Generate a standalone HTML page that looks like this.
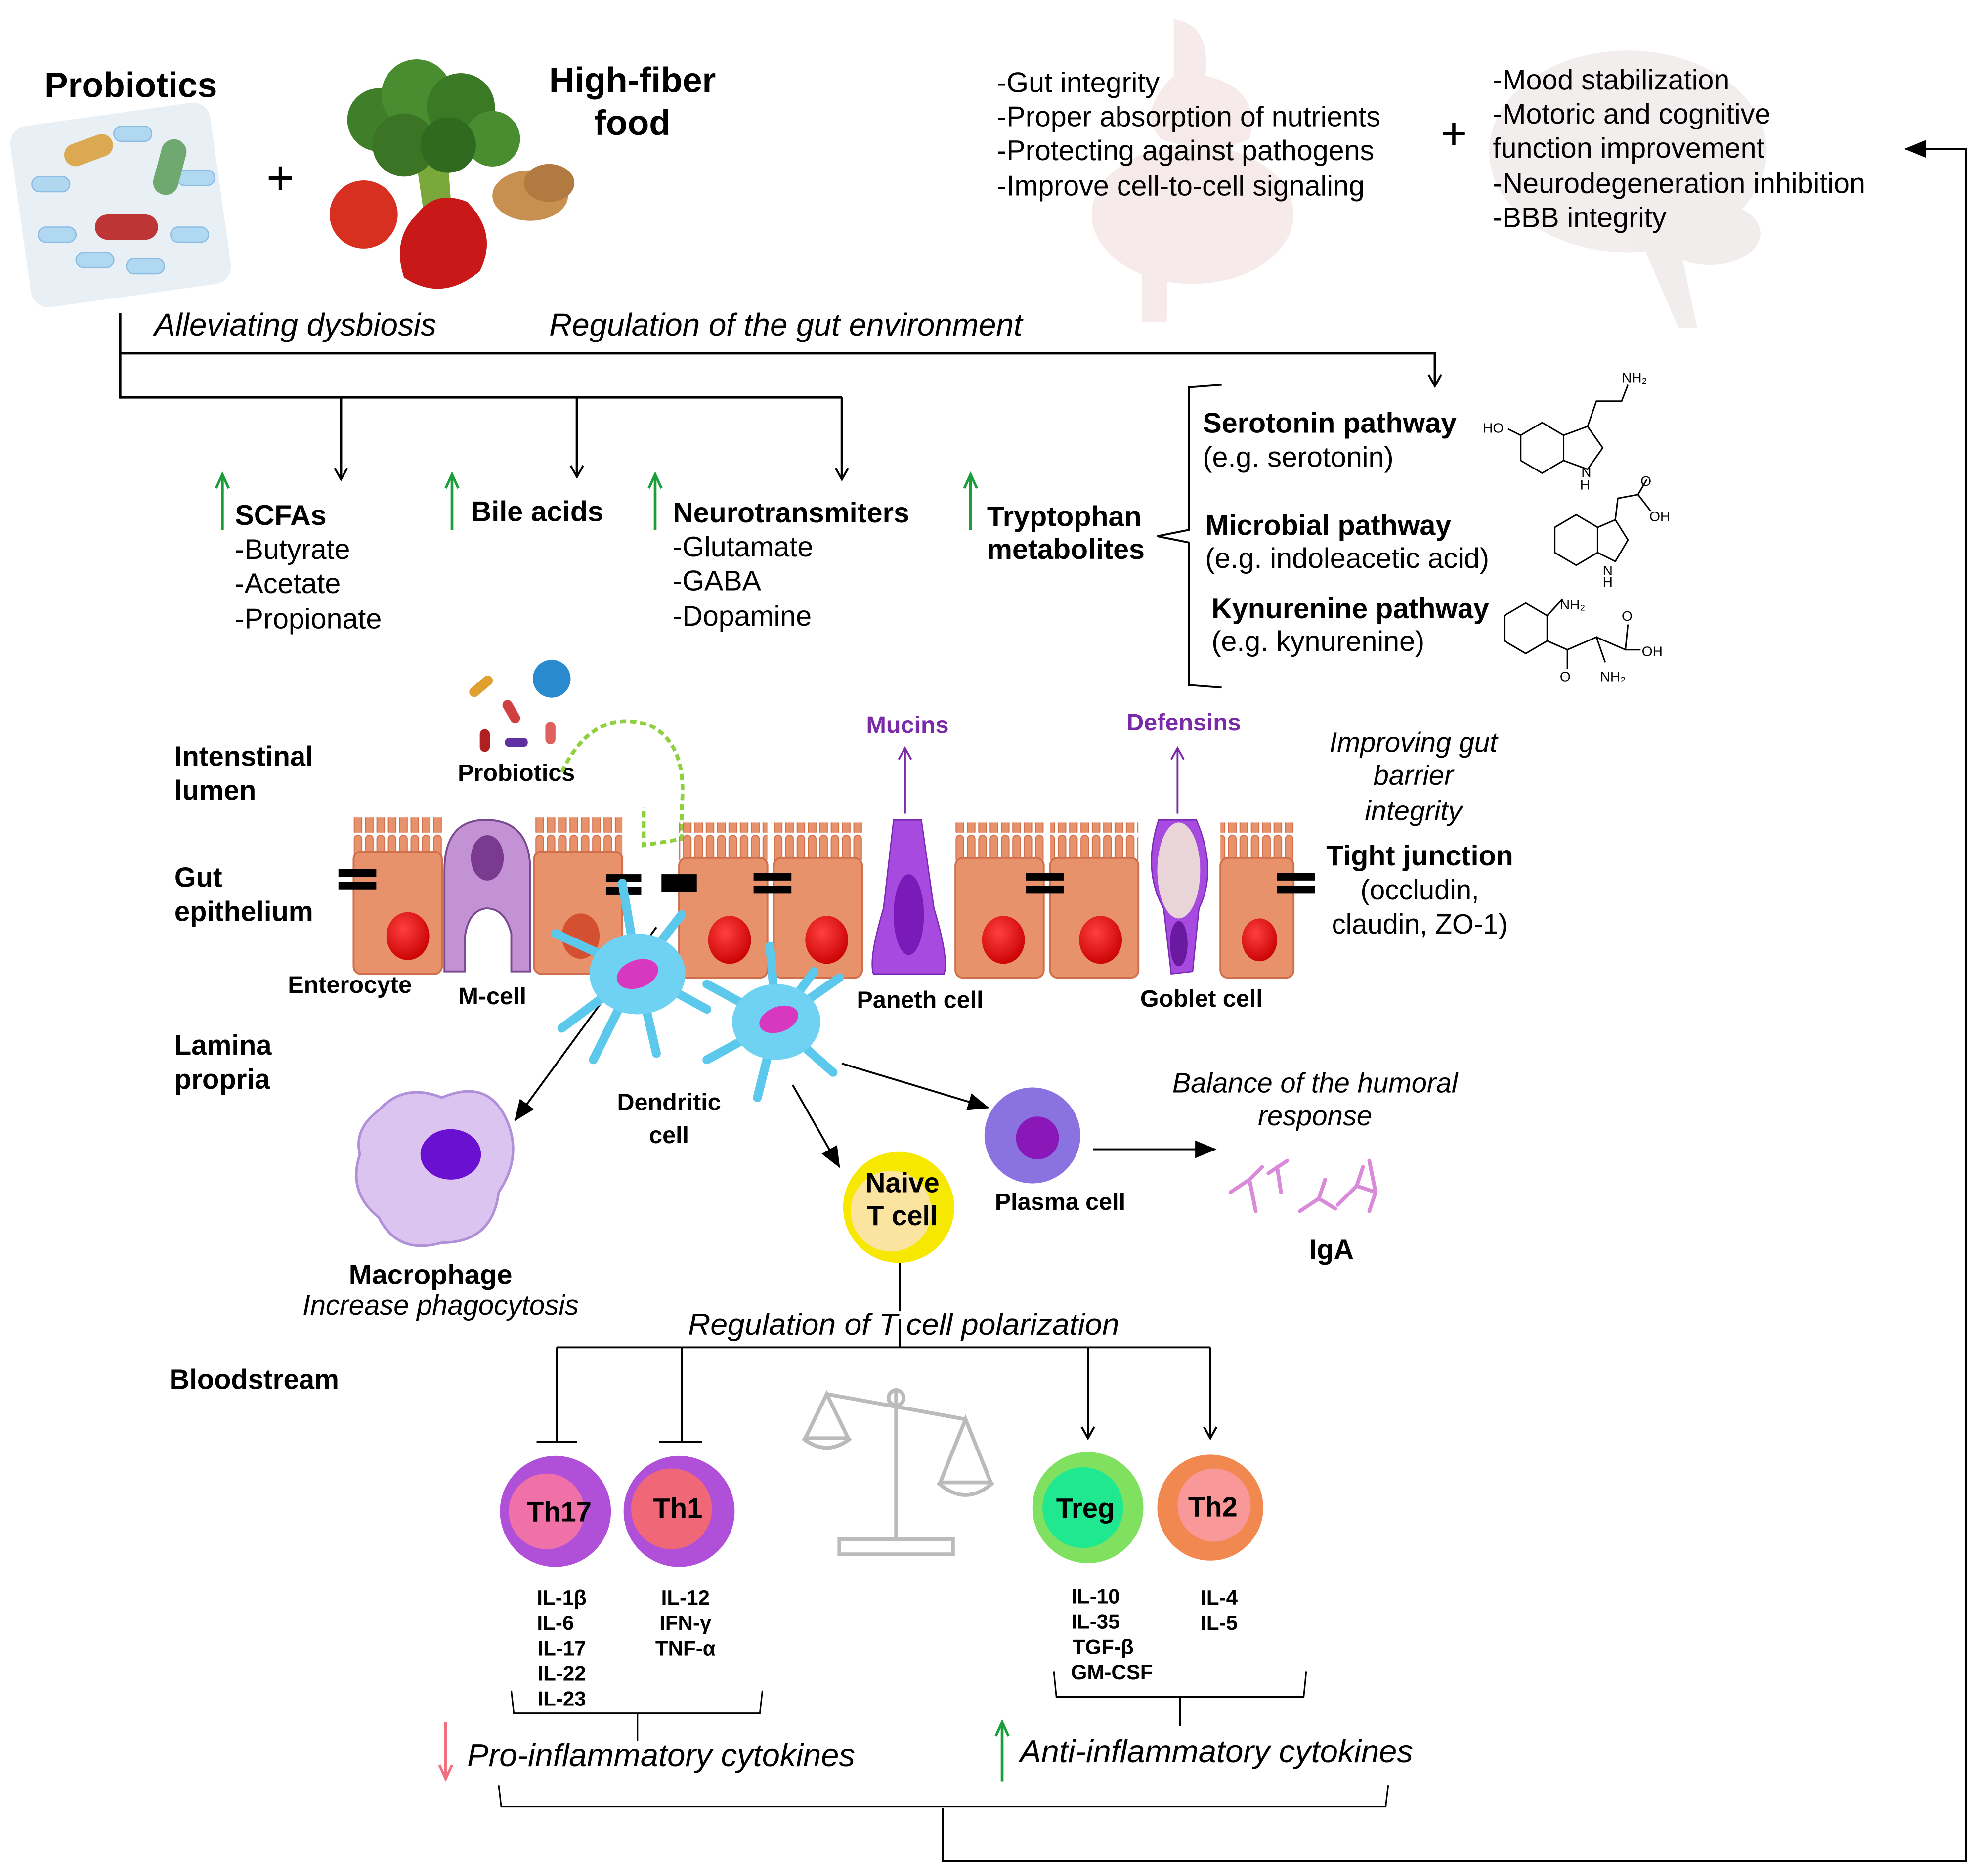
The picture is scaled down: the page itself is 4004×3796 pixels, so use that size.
<!DOCTYPE html>
<html><head><meta charset="utf-8"><style>
html,body{margin:0;padding:0;background:#fff;}
svg{display:block;}
text{font-family:"Liberation Sans",Arial,sans-serif;fill:#000;}
.b{font-weight:bold;}
.i{font-style:italic;}
</style></head><body>
<svg width="4004" height="3796" viewBox="0 0 1568 1487" xmlns="http://www.w3.org/2000/svg">
<defs>
<marker id="ao" markerWidth="12" markerHeight="12" refX="10" refY="6" orient="auto" markerUnits="userSpaceOnUse"><path d="M1,1 L10,6 L1,11" fill="none" stroke="#000" stroke-width="1.6"/></marker>
<marker id="af" markerWidth="18" markerHeight="14" refX="16" refY="7" orient="auto" markerUnits="userSpaceOnUse"><path d="M0,0 L17,7 L0,14 z" fill="#000"/></marker>
<marker id="ag" markerWidth="14" markerHeight="12" refX="12" refY="6" orient="auto" markerUnits="userSpaceOnUse"><path d="M1,1 L12,6 L1,11" fill="none" stroke="#1a9e3a" stroke-width="2"/></marker>
<marker id="ap" markerWidth="14" markerHeight="12" refX="12" refY="6" orient="auto" markerUnits="userSpaceOnUse"><path d="M1,1 L12,6 L1,11" fill="none" stroke="#f07080" stroke-width="2"/></marker>
<marker id="av" markerWidth="12" markerHeight="12" refX="10" refY="6" orient="auto" markerUnits="userSpaceOnUse"><path d="M1,1 L10,6 L1,11" fill="none" stroke="#7a2aa8" stroke-width="1.5"/></marker>
<pattern id="mv" x="0" y="0" width="9" height="30" patternUnits="userSpaceOnUse"><rect x="1.5" y="2" width="6" height="30" rx="3" fill="#e8926c" stroke="#cf6f4c" stroke-width="0.8"/></pattern>
<radialGradient id="rn" cx="0.4" cy="0.35" r="0.7"><stop offset="0" stop-color="#ff4040"/><stop offset="1" stop-color="#c80000"/></radialGradient>
</defs>

<!-- top images -->
<g opacity="0.9">
<rect x="15" y="90" width="160" height="145" rx="14" fill="#e6eef5" transform="rotate(-8 95 160)"/>
<g fill="#a9d4f0" stroke="#7fb6e0" stroke-width="1">
<rect x="30" y="180" width="30" height="12" rx="6"/><rect x="60" y="200" width="30" height="12" rx="6"/><rect x="100" y="205" width="30" height="12" rx="6"/><rect x="135" y="180" width="30" height="12" rx="6"/><rect x="25" y="140" width="30" height="12" rx="6"/><rect x="140" y="135" width="30" height="12" rx="6"/><rect x="90" y="100" width="30" height="12" rx="6"/>
</g>
<rect x="75" y="170" width="50" height="20" rx="10" fill="#b82020"/>
<rect x="50" y="110" width="40" height="18" rx="9" fill="#d8a040" transform="rotate(-20 70 119)"/>
<rect x="125" y="110" width="20" height="45" rx="10" fill="#60a060" transform="rotate(15 135 130)"/>
</g>
<text x="35" y="77" font-size="28" class="b">Probiotics</text>
<text x="222" y="154" font-size="38" text-anchor="middle">+</text>
<!-- veg -->
<g>
<path d="M330,130 L340,200 L360,200 L355,130z" fill="#7aa83a"/>
<circle cx="300" cy="95" r="25" fill="#3f7f2a"/><circle cx="330" cy="75" r="28" fill="#4a8c30"/><circle cx="365" cy="85" r="27" fill="#3b7a25"/><circle cx="390" cy="110" r="22" fill="#4a8c30"/><circle cx="320" cy="115" r="25" fill="#3a7424"/><circle cx="355" cy="115" r="22" fill="#2f6a1f"/>
<circle cx="288" cy="170" r="27" fill="#d83020"/>
<path d="M330,170 Q310,190 320,220 Q350,240 380,215 Q395,185 370,160 Q345,150 330,170z" fill="#c81818"/>
<ellipse cx="420" cy="155" rx="30" ry="20" fill="#c89050"/><ellipse cx="435" cy="145" rx="20" ry="15" fill="#b07a40"/>
</g>
<text x="501" y="73" font-size="28" class="b" text-anchor="middle">High-fiber</text>
<text x="501" y="107" font-size="28" class="b" text-anchor="middle">food</text>
<!-- faded gut -->
<g opacity="0.13" fill="#c06060">
<path d="M930,15 Q960,20 955,60 Q1000,70 990,110 Q960,125 920,110 Q900,90 930,60z"/>
<ellipse cx="945" cy="170" rx="80" ry="55"/>
<rect x="905" y="215" width="20" height="40"/>
</g>
<text font-size="22.5"><tspan x="790" y="73">-Gut integrity</tspan><tspan x="790" y="100">-Proper absorption of nutrients</tspan><tspan x="790" y="127">-Protecting against pathogens</tspan><tspan x="790" y="155">-Improve cell-to-cell signaling</tspan></text>
<text x="1152" y="118" font-size="36" text-anchor="middle">+</text>
<!-- faded brain -->
<g opacity="0.12" fill="#9a7070">
<ellipse cx="1290" cy="120" rx="110" ry="80"/>
<path d="M1300,190 L1330,260 L1345,260 L1330,190z"/>
<ellipse cx="1355" cy="185" rx="40" ry="25"/>
</g>
<text font-size="22.5"><tspan x="1183" y="71">-Mood stabilization</tspan><tspan x="1183" y="98">-Motoric and cognitive</tspan><tspan x="1183" y="125">function improvement</tspan><tspan x="1183" y="153">-Neurodegeneration inhibition</tspan><tspan x="1183" y="180">-BBB integrity</tspan></text>

<!-- feedback line -->
<polyline points="747,1433 747,1475 1558,1475 1558,118 1510,118" fill="none" stroke="#000" stroke-width="1.5" marker-end="url(#af)"/>

<text x="122" y="266" font-size="25" class="i">Alleviating dysbiosis</text>
<text x="435" y="266" font-size="25" class="i">Regulation of the gut environment</text>
<g stroke="#000" stroke-width="2" fill="none">
<line x1="95" y1="248" x2="95" y2="316"/>
<polyline points="95,280 1137,280 1137,306" marker-end="url(#ao)"/>
<line x1="95" y1="315" x2="667" y2="315"/>
<line x1="270" y1="315" x2="270" y2="380" marker-end="url(#ao)"/>
<line x1="457" y1="315" x2="457" y2="378" marker-end="url(#ao)"/>
<line x1="667" y1="315" x2="667" y2="380" marker-end="url(#ao)"/>
</g>
<g stroke="#1a9e3a" stroke-width="2.2">
<line x1="176" y1="420" x2="176" y2="376" marker-end="url(#ag)"/>
<line x1="358" y1="420" x2="358" y2="376" marker-end="url(#ag)"/>
<line x1="519" y1="420" x2="519" y2="376" marker-end="url(#ag)"/>
<line x1="769" y1="420" x2="769" y2="376" marker-end="url(#ag)"/>
</g>
<text x="186" y="416" font-size="22.5" class="b">SCFAs</text>
<text font-size="22.5"><tspan x="186" y="443">-Butyrate</tspan><tspan x="186" y="470">-Acetate</tspan><tspan x="186" y="498">-Propionate</tspan></text>
<text x="373" y="413" font-size="22.5" class="b">Bile acids</text>
<text x="533" y="414" font-size="22.5" class="b">Neurotransmiters</text>
<text font-size="22.5"><tspan x="533" y="441">-Glutamate</tspan><tspan x="533" y="468">-GABA</tspan><tspan x="533" y="496">-Dopamine</tspan></text>
<text x="782" y="417" font-size="22.5" class="b">Tryptophan</text>
<text x="782" y="443" font-size="22.5" class="b">metabolites</text>
<path d="M968,305 L942,307 L942,420 L917,425 L942,430 L942,543 L968,545" fill="none" stroke="#000" stroke-width="1.5"/>
<text x="953" y="343" font-size="22.5" class="b">Serotonin pathway</text>
<text x="953" y="370" font-size="22.5">(e.g. serotonin)</text>
<text x="955" y="424" font-size="22.5" class="b">Microbial pathway</text>
<text x="955" y="450" font-size="22.5">(e.g. indoleacetic acid)</text>
<text x="960" y="490" font-size="22.5" class="b">Kynurenine pathway</text>
<text x="960" y="516" font-size="22.5">(e.g. kynurenine)</text>
<!-- molecules -->
<g fill="none" stroke="#000" stroke-width="1.2">
<path d="M1205,345 L1222,335 L1239,345 L1239,365 L1222,375 L1205,365z M1239,345 L1258,338 L1270,355 L1258,372 L1239,365 M1258,338 L1265,318 L1285,318 L1290,305 M1205,345 L1195,340"/>
<path d="M1232,418 L1249,408 L1266,418 L1266,438 L1249,448 L1232,438z M1266,418 L1280,412 L1290,428 L1280,445 L1266,438 M1280,412 L1282,395 L1298,392 L1305,380 M1298,392 L1308,405"/>
<path d="M1192,488 L1209,478 L1226,488 L1226,508 L1209,518 L1192,508z M1226,488 L1238,475 M1226,508 L1242,515 L1242,530 M1242,515 L1265,505 L1272,525 M1265,505 L1288,515 L1290,495 M1288,515 L1300,515"/>
</g>
<g font-size="11"><text x="1175" y="343">HO</text><text x="1285" y="303">NH₂</text><text x="1252" y="388">H</text><text x="1253" y="378">N</text><text x="1270" y="456">N</text><text x="1270" y="465">H</text><text x="1300" y="385">O</text><text x="1307" y="413">OH</text><text x="1236" y="483">NH₂</text><text x="1285" y="492">O</text><text x="1301" y="520">OH</text><text x="1236" y="540">O</text><text x="1268" y="540">NH₂</text></g>

<!-- lumen labels -->
<g font-size="22" class="b">
<text x="138" y="607" class="b">Intenstinal</text><text x="138" y="634" class="b">lumen</text>
<text x="138" y="703" class="b">Gut</text><text x="138" y="730" class="b">epithelium</text>
<text x="138" y="836" class="b">Lamina</text><text x="138" y="863" class="b">propria</text>
<text x="134" y="1101" class="b">Bloodstream</text>
</g>
<!-- probiotics small -->
<g>
<rect x="370" y="540" width="22" height="8" rx="4" fill="#e0a030" transform="rotate(-40 381 544)"/>
<rect x="395" y="560" width="20" height="8" rx="4" fill="#d04040" transform="rotate(60 405 564)"/>
<rect x="380" y="578" width="8" height="18" rx="4" fill="#b02020"/>
<rect x="400" y="585" width="18" height="7" rx="3" fill="#6030a0"/>
<circle cx="437" cy="538" r="15" fill="#2a8ad0"/>
<rect x="432" y="572" width="8" height="18" rx="4" fill="#e06060"/>
</g>
<text x="409" y="619" font-size="19" class="b" text-anchor="middle">Probiotics</text>
<path d="M445,612 Q470,560 515,575 Q545,590 540,640 L540,665 L510,670 L510,640" fill="none" stroke="#8fd040" stroke-width="3" stroke-dasharray="5,3"/>
<!-- epithelium cells -->
<g stroke="#cf6f4c" stroke-width="1.5">
<rect x="280" y="648" width="70" height="30" fill="url(#mv)" stroke="none"/>
<rect x="423" y="648" width="70" height="30" fill="url(#mv)" stroke="none"/>
<rect x="538" y="652" width="70" height="30" fill="url(#mv)" stroke="none"/>
<rect x="613" y="652" width="70" height="30" fill="url(#mv)" stroke="none"/>
<rect x="757" y="652" width="70" height="30" fill="url(#mv)" stroke="none"/>
<rect x="832" y="652" width="70" height="30" fill="url(#mv)" stroke="none"/>
<rect x="967" y="652" width="58" height="30" fill="url(#mv)" stroke="none"/>
<rect x="280" y="675" width="70" height="97" rx="6" fill="#e8926c"/>
<rect x="423" y="675" width="70" height="97" rx="6" fill="#e8926c"/>
<rect x="538" y="680" width="70" height="95" rx="6" fill="#e8926c"/>
<rect x="613" y="680" width="70" height="95" rx="6" fill="#e8926c"/>
<rect x="757" y="680" width="70" height="95" rx="6" fill="#e8926c"/>
<rect x="832" y="680" width="70" height="95" rx="6" fill="#e8926c"/>
<rect x="967" y="680" width="58" height="95" rx="6" fill="#e8926c"/>
</g>
<!-- M cell -->
<path d="M352,770 L352,690 Q352,648 388,650 Q420,652 420,690 L420,770 L405,770 L405,740 Q400,720 385,720 Q370,722 368,745 L368,770z" fill="#c392d4" stroke="#7a4a90" stroke-width="1.5"/>
<ellipse cx="386" cy="680" rx="13" ry="18" fill="#7a3a90"/>
<!-- Paneth -->
<path d="M708,650 L730,650 L740,720 Q752,760 748,772 L692,772 Q688,760 700,720z" fill="#a64ae0" stroke="#7a2ab0"/>
<ellipse cx="720" cy="725" rx="12" ry="32" fill="#7a1ab8"/>
<!-- Goblet -->
<path d="M918,650 L948,650 Q965,690 950,720 L945,770 L928,772 L922,720 Q905,690 918,650z" fill="#a64ae0" stroke="#7a2ab0"/>
<ellipse cx="934" cy="690" rx="17" ry="38" fill="#f5ecd5" opacity="0.85"/>
<ellipse cx="934" cy="748" rx="7" ry="18" fill="#6a1aa0"/>
<!-- nuclei -->
<g fill="url(#rn)">
<ellipse cx="323" cy="742" rx="17" ry="19"/><ellipse cx="578" cy="745" rx="17" ry="19"/><ellipse cx="655" cy="745" rx="17" ry="19"/><ellipse cx="795" cy="745" rx="17" ry="19"/><ellipse cx="872" cy="745" rx="17" ry="19"/><ellipse cx="998" cy="745" rx="14" ry="17"/>
</g>
<ellipse cx="460" cy="742" rx="15" ry="18" fill="#d45030"/>
<!-- tight junctions -->
<g fill="#000">
<rect x="268" y="689" width="30" height="6"/><rect x="268" y="699" width="30" height="6"/>
<rect x="480" y="693" width="28" height="6"/><rect x="480" y="703" width="28" height="6"/>
<rect x="524" y="693" width="28" height="14"/>
<rect x="597" y="692" width="30" height="6"/><rect x="597" y="702" width="30" height="6"/>
<rect x="813" y="692" width="30" height="6"/><rect x="813" y="702" width="30" height="6"/>
<rect x="1012" y="692" width="30" height="6"/><rect x="1012" y="702" width="30" height="6"/>
</g>
<g stroke="#7a2aa8" stroke-width="1.5">
<line x1="717" y1="645" x2="717" y2="593" marker-end="url(#av)"/>
<line x1="933" y1="645" x2="933" y2="593" marker-end="url(#av)"/>
</g>
<text x="719" y="581" font-size="19" class="b" text-anchor="middle" style="fill:#7a2aa8">Mucins</text>
<text x="938" y="579" font-size="19" class="b" text-anchor="middle" style="fill:#7a2aa8">Defensins</text>
<text x="277" y="787" font-size="19" class="b" text-anchor="middle">Enterocyte</text>
<text x="390" y="796" font-size="19" class="b" text-anchor="middle">M-cell</text>
<text x="729" y="799" font-size="19" class="b" text-anchor="middle">Paneth cell</text>
<text x="952" y="798" font-size="19" class="b" text-anchor="middle">Goblet cell</text>
<text font-size="22" class="i" text-anchor="middle"><tspan x="1120" y="596">Improving gut</tspan><tspan x="1120" y="622">barrier</tspan><tspan x="1120" y="650">integrity</tspan></text>
<text x="1125" y="686" font-size="22.5" class="b" text-anchor="middle">Tight junction</text>
<text font-size="22" text-anchor="middle"><tspan x="1125" y="713">(occludin,</tspan><tspan x="1125" y="740">claudin, ZO-1)</tspan></text>
<!-- arrows from DC -->
<g stroke="#000" stroke-width="1.5">
<line x1="520" y1="735" x2="408" y2="888" marker-end="url(#af)"/>
<line x1="628" y1="860" x2="665" y2="925" marker-end="url(#af)"/>
<line x1="667" y1="843" x2="783" y2="878" marker-end="url(#af)"/>
</g>
<!-- dendritic cells -->
<g stroke="#5cc8ec" stroke-width="7" stroke-linecap="round" fill="none">
<path d="M505,770 L493,700 M505,770 L440,740 M505,770 L445,815 M505,770 L470,840 M505,770 L540,725 M505,770 L560,800 M505,770 L520,835"/>
<path d="M615,810 L610,750 M615,810 L560,780 M615,810 L560,840 M615,810 L600,870 M615,810 L660,850 M615,810 L665,775 M615,810 L645,770"/>
</g>
<ellipse cx="505" cy="772" rx="38" ry="32" fill="#6fd2f2"/>
<ellipse cx="615" cy="810" rx="35" ry="30" fill="#6fd2f2"/>
<ellipse cx="505" cy="772" rx="17" ry="11" fill="#d838c0" transform="rotate(-20 505 772)"/>
<ellipse cx="617" cy="808" rx="16" ry="10" fill="#d838c0" transform="rotate(-20 617 808)"/>
<text x="530" y="880" font-size="19" class="b" text-anchor="middle">Dendritic</text>
<text x="530" y="906" font-size="19" class="b" text-anchor="middle">cell</text>
<!-- macrophage -->
<path d="M300,880 Q320,858 350,870 Q385,855 400,885 Q415,915 395,945 Q390,985 350,985 Q315,995 300,965 Q275,945 285,915 Q280,895 300,880z" fill="#dcc4f0" stroke="#b090d8" stroke-width="2"/>
<ellipse cx="357" cy="915" rx="24" ry="20" fill="#6a10d0"/>
<text x="341" y="1018" font-size="22" class="b" text-anchor="middle">Macrophage</text>
<text x="349" y="1042" font-size="22" class="i" text-anchor="middle">Increase phagocytosis</text>
<!-- plasma -->
<circle cx="818" cy="900" r="38" fill="#8a72e0"/>
<circle cx="822" cy="902" r="17" fill="#8a18b8"/>
<text x="840" y="959" font-size="19" class="b" text-anchor="middle">Plasma cell</text>
<line x1="866" y1="911" x2="963" y2="911" stroke="#000" stroke-width="1.5" marker-end="url(#af)"/>
<text font-size="22" class="i" text-anchor="middle"><tspan x="1042" y="866">Balance of the humoral</tspan><tspan x="1042" y="892">response</tspan></text>
<g stroke="#d98ad8" stroke-width="3" fill="none" stroke-linecap="round">
<path d="M975,945 L990,935 L1000,925 M990,935 L995,960"/>
<path d="M1005,930 L1020,920 M1012,925 L1015,945"/>
<path d="M1030,960 L1045,950 L1058,958 M1045,950 L1050,935"/>
<path d="M1060,955 L1075,940 L1080,925 M1075,940 L1090,945"/>
<path d="M1085,920 L1090,945 L1085,960"/>
</g>
<text x="1055" y="998" font-size="22" class="b" text-anchor="middle">IgA</text>
<!-- naive T -->
<circle cx="712" cy="957" r="44" fill="#f6e800"/>
<circle cx="706" cy="960" r="32" fill="#fbe3a0"/>
<text x="715" y="945" font-size="22" class="b" text-anchor="middle">Naive</text>
<text x="715" y="971" font-size="22" class="b" text-anchor="middle">T cell</text>
<line x1="713" y1="1001" x2="713" y2="1068" stroke="#000" stroke-width="1.5"/>
<text x="716" y="1058" font-size="24.5" class="i" text-anchor="middle" style="paint-order:stroke;stroke:#fff;stroke-width:4">Regulation of T cell polarization</text>
<g stroke="#000" stroke-width="1.5" fill="none">
<line x1="441" y1="1068" x2="959" y2="1068"/>
<line x1="441" y1="1068" x2="441" y2="1143"/><line x1="425" y1="1143" x2="457" y2="1143"/>
<line x1="540" y1="1068" x2="540" y2="1143"/><line x1="522" y1="1143" x2="556" y2="1143"/>
<line x1="862" y1="1068" x2="862" y2="1140" marker-end="url(#ao)"/>
<line x1="959" y1="1068" x2="959" y2="1140" marker-end="url(#ao)"/>
</g>
<!-- scale -->
<g stroke="#bbb" stroke-width="3" fill="none">
<line x1="710" y1="1100" x2="710" y2="1220"/>
<path d="M665,1220 L755,1220 L755,1232 L665,1232z"/>
<line x1="655" y1="1105" x2="765" y2="1125"/>
<circle cx="710" cy="1108" r="6"/>
<path d="M655,1105 L638,1140 L672,1140z M765,1125 L745,1175 L785,1175z"/>
<path d="M636,1140 Q655,1155 674,1140 M743,1175 Q765,1195 787,1175"/>
</g>
<!-- T subsets -->
<circle cx="440" cy="1198" r="44" fill="#b050d8"/><circle cx="433" cy="1198" r="30" fill="#f070a8"/>
<circle cx="538" cy="1198" r="44" fill="#b050d8"/><circle cx="532" cy="1196" r="32" fill="#f06878"/>
<circle cx="862" cy="1195" r="44" fill="#80e060"/><circle cx="858" cy="1195" r="32" fill="#20e890"/>
<circle cx="959" cy="1195" r="42" fill="#f08850"/><circle cx="962" cy="1193" r="29" fill="#f89898"/>
<text x="443" y="1206" font-size="22" class="b" text-anchor="middle">Th17</text>
<text x="537" y="1203" font-size="22" class="b" text-anchor="middle">Th1</text>
<text x="860" y="1203" font-size="22" class="b" text-anchor="middle">Treg</text>
<text x="961" y="1202" font-size="22" class="b" text-anchor="middle">Th2</text>
<g font-size="16.5" class="b" text-anchor="middle">
<text x="445" y="1272" class="b">IL-1β</text><text x="440" y="1292" class="b">IL-6</text><text x="445" y="1312" class="b">IL-17</text><text x="445" y="1332" class="b">IL-22</text><text x="445" y="1352" class="b">IL-23</text>
<text x="543" y="1272" class="b">IL-12</text><text x="543" y="1292" class="b">IFN-γ</text><text x="543" y="1312" class="b">TNF-α</text>
<text x="868" y="1271" class="b">IL-10</text><text x="868" y="1291" class="b">IL-35</text><text x="874" y="1311" class="b">TGF-β</text><text x="881" y="1331" class="b">GM-CSF</text>
<text x="966" y="1272" class="b">IL-4</text><text x="966" y="1292" class="b">IL-5</text>
</g>
<g stroke="#000" stroke-width="1.2" fill="none">
<path d="M405,1340 L407,1358 L505,1358 L505,1380 M505,1358 L602,1358 L604,1340"/>
<path d="M835,1325 L837,1345 L935,1345 L935,1368 M935,1345 L1033,1345 L1035,1325"/>
<path d="M395,1415 L397,1432 L1098,1432 L1100,1415"/>
</g>
<line x1="353" y1="1365" x2="353" y2="1410" stroke="#f07080" stroke-width="2.2" marker-end="url(#ap)"/>
<text x="370" y="1400" font-size="25.5" class="i">Pro-inflammatory cytokines</text>
<line x1="794" y1="1412" x2="794" y2="1365" stroke="#1a9e3a" stroke-width="2.2" marker-end="url(#ag)"/>
<text x="808" y="1397" font-size="25.5" class="i">Anti-inflammatory cytokines</text>
</svg>
</body></html>
